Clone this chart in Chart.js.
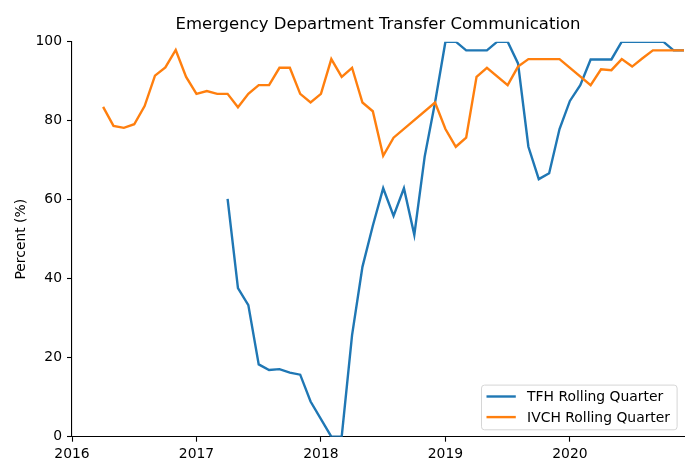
<!DOCTYPE html>
<html>
<head>
<meta charset="utf-8">
<title>Emergency Department Transfer Communication</title>
<script src="https://cdn.jsdelivr.net/npm/chart.js@4.4.1/dist/chart.umd.min.js"></script>
<style>
    html, body { margin: 0; padding: 0; background: #fff; }
    #wrap { width: 700px; height: 476px; }
</style>
</head>
<body>
<div id="wrap"><canvas id="edChart"></canvas></div>
<script>
// Months are 'YYYY-MM'; months missing in the source are simply left out
const tfhMonths = [
    '2017-04', '2017-05', '2017-06', '2017-07', '2017-08', '2017-09', '2017-10', '2017-11', '2017-12',
    '2018-02', '2018-03', '2018-04', '2018-05', '2018-06', '2018-07', '2018-08', '2018-09', '2018-10',
    '2018-11', '2018-12', '2019-01', '2019-02', '2019-03', '2019-04', '2019-05', '2019-06', '2019-07',
    '2019-08', '2019-09', '2019-10', '2019-11', '2019-12', '2020-01', '2020-02', '2020-03', '2020-04',
    '2020-05', '2020-06', '2020-07', '2020-08', '2020-09', '2020-10', '2020-11', '2020-12'
];
const tfhValues = [
    60.2, 37.6, 33.3, 18.3, 16.9, 17.1, 16.2, 15.7, 8.9,
    0, 0, 25.7, 43.0, 53.4, 62.9, 55.9, 62.9, 51.1,
    70.9, 84.6, 100, 100, 97.8, 97.8, 97.8, 100, 100,
    94.5, 73.4, 65.2, 66.7, 77.9, 85.0, 89.0, 95.5, 95.5,
    95.5, 100, 100, 100, 100, 100, 97.8, 97.8
];

const ivchMonths = [
    '2016-04', '2016-05', '2016-06', '2016-07', '2016-08', '2016-09', '2016-10', '2016-11', '2016-12',
    '2017-01', '2017-02', '2017-03', '2017-04', '2017-05', '2017-06', '2017-07', '2017-08', '2017-09',
    '2017-10', '2017-11', '2017-12', '2018-01', '2018-02', '2018-03', '2018-04', '2018-05', '2018-06',
    '2018-07', '2018-08', '2018-12', '2019-01', '2019-02', '2019-03', '2019-04', '2019-05', '2019-07',
    '2019-08', '2019-09', '2019-10', '2019-11', '2019-12', '2020-03', '2020-04', '2020-05', '2020-06',
    '2020-07', '2020-08', '2020-09', '2020-10', '2020-11', '2020-12'
];
const ivchValues = [
    83.5, 78.7, 78.2, 79.1, 83.7, 91.4, 93.5, 97.9, 91.1,
    86.8, 87.5, 86.8, 86.8, 83.4, 86.8, 89.0, 89.0, 93.4,
    93.4, 86.8, 84.6, 86.8, 95.6, 91.1, 93.4, 84.6, 82.4,
    71.1, 75.7, 84.6, 77.9, 73.4, 75.7, 91.1, 93.4, 89.0,
    93.7, 95.6, 95.6, 95.6, 95.6, 89.0, 93.0, 92.8, 95.6,
    93.7, 95.8, 97.8, 97.8, 97.8, 97.8
];

const yearTicks = [2016, 2017, 2018, 2019, 2020];
const percentTicks = [0, 20, 40, 60, 80, 100];

const seriesNames = ['TFH Rolling Quarter', 'IVCH Rolling Quarter'];
const seriesColors = ['#1f77b4', '#ff7f0e'];

(function() {
    'use strict';

    const FONT = "'DejaVu Sans', sans-serif";
    const LINE_W = 2.4;

    // 'YYYY-MM' -> decimal year
    function toYear(m) {
        const parts = m.split('-');
        return Number(parts[0]) + (Number(parts[1]) - 1) / 12;
    }

    function toPoints(months, values) {
        return months.map(function(m, i) {
            return { x: toYear(m), y: values[i] };
        });
    }

    // title centred over the plot area, matplotlib style
    const titlePlugin = {
        id: 'plotTitle',
        afterDraw: function(chart) {
            const ctx = chart.ctx;
            const area = chart.chartArea;
            ctx.save();
            ctx.fillStyle = '#000';
            ctx.font = '16.5px ' + FONT;
            ctx.textAlign = 'center';
            ctx.textBaseline = 'alphabetic';
            ctx.fillText('Emergency Department Transfer Communication', (area.left + area.right) / 2, 29);
            ctx.restore();
        }
    };

    // legend box in the lower right corner of the plot
    const legendPlugin = {
        id: 'innerLegend',
        afterDraw: function(chart) {
            const ctx = chart.ctx;
            const area = chart.chartArea;
            const w = 195.6, h = 44.7;
            const x = area.right - 6.9 - w;
            const y = area.bottom - 6.9 - h;
            ctx.save();
            ctx.beginPath();
            ctx.roundRect(x, y, w, h, 3);
            ctx.fillStyle = 'rgba(255,255,255,0.8)';
            ctx.fill();
            ctx.strokeStyle = '#d6d6d6';
            ctx.lineWidth = 1;
            ctx.stroke();

            ctx.font = '13.9px ' + FONT;
            ctx.textBaseline = 'middle';
            ctx.textAlign = 'left';
            seriesNames.forEach(function(name, i) {
                const rowY = y + 11.4 + i * 20.6;
                ctx.beginPath();
                ctx.moveTo(x + 5, rowY);
                ctx.lineTo(x + 34.3, rowY);
                ctx.strokeStyle = seriesColors[i];
                ctx.lineWidth = LINE_W;
                ctx.stroke();
                ctx.fillStyle = '#000';
                ctx.fillText(name, x + 45.6, rowY + 1);
            });
            ctx.restore();
        }
    };

    function initChart() {
        if (typeof Chart === 'undefined') {
            console.error('Chart.js is not loaded');
            return;
        }

        const canvas = document.getElementById('edChart');
        const lastX = Math.max(toYear(tfhMonths[tfhMonths.length - 1]), toYear(ivchMonths[ivchMonths.length - 1]));

        new Chart(canvas, {
            type: 'line',
            data: {
                datasets: [{
                    label: seriesNames[0],
                    data: toPoints(tfhMonths, tfhValues),
                    borderColor: seriesColors[0],
                    backgroundColor: seriesColors[0],
                    borderWidth: LINE_W,
                    pointRadius: 0,
                    tension: 0,
                    fill: false,
                    order: 1
                }, {
                    label: seriesNames[1],
                    data: toPoints(ivchMonths, ivchValues),
                    borderColor: seriesColors[1],
                    backgroundColor: seriesColors[1],
                    borderWidth: LINE_W,
                    pointRadius: 0,
                    tension: 0,
                    fill: false,
                    order: 0
                }]
            },
            options: {
                responsive: true,
                maintainAspectRatio: false,
                animation: false,
                devicePixelRatio: 1,
                layout: {
                    padding: { left: 0, right: 16, top: 41.7, bottom: 0 }
                },
                plugins: {
                    legend: { display: false },
                    title: { display: false },
                    tooltip: { enabled: false }
                },
                scales: {
                    x: {
                        type: 'linear',
                        min: yearTicks[0],
                        max: lastX,
                        afterFit: function(scale) { scale.height = 39.3; },
                        afterBuildTicks: function(scale) {
                            scale.ticks = yearTicks.map(function(v) { return { value: v }; });
                        },
                        ticks: {
                            includeBounds: false,
                            autoSkip: false,
                            maxRotation: 0,
                            padding: 4,
                            color: '#000',
                            font: { family: FONT, size: 13.9 },
                            callback: function(value) { return String(value); }
                        },
                        grid: {
                            display: true,
                            drawOnChartArea: false,
                            drawTicks: true,
                            tickLength: 5,
                            tickWidth: 1.1,
                            tickColor: '#000'
                        },
                        border: { display: true, color: '#000', width: 1.1 }
                    },
                    y: {
                        min: 0,
                        max: 100,
                        afterFit: function(scale) { scale.width = 72; },
                        afterBuildTicks: function(scale) {
                            scale.ticks = percentTicks.map(function(v) { return { value: v }; });
                        },
                        ticks: {
                            padding: 5,
                            color: '#000',
                            font: { family: FONT, size: 13.9 }
                        },
                        grid: {
                            display: true,
                            drawOnChartArea: false,
                            drawTicks: true,
                            tickLength: 5,
                            tickWidth: 1.1,
                            tickColor: '#000'
                        },
                        border: { display: true, color: '#000', width: 1.1 },
                        title: {
                            display: true,
                            text: 'Percent (%)',
                            color: '#000',
                            font: { family: FONT, size: 13.9 },
                            padding: { top: 13, bottom: 0 }
                        }
                    }
                }
            },
            plugins: [titlePlugin, legendPlugin]
        });
    }

    if (document.readyState === 'loading') {
        document.addEventListener('DOMContentLoaded', initChart);
    } else {
        initChart();
    }
})();
</script>
</body>
</html>
